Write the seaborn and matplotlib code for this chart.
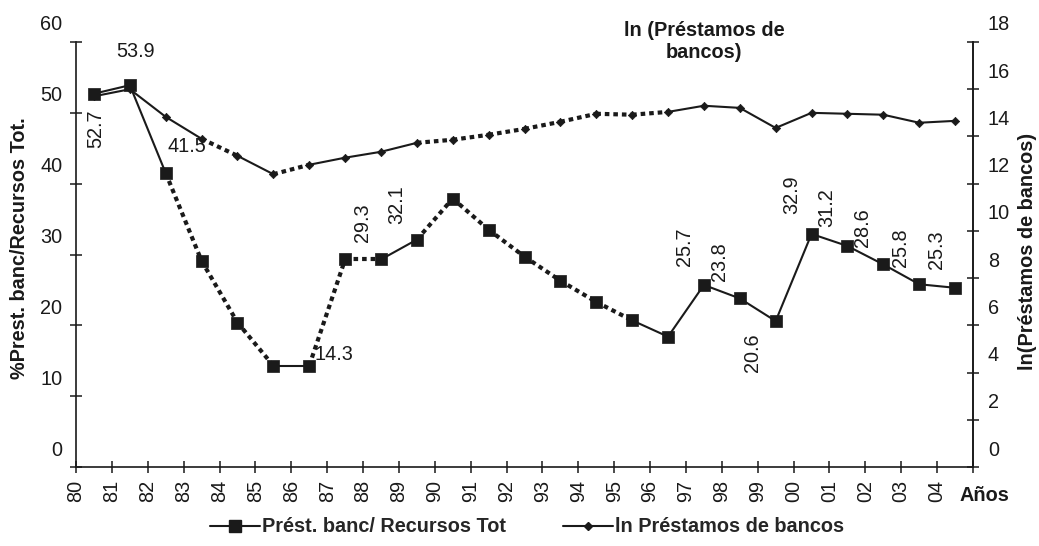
#!/usr/bin/env python3
"""
Préstamos de bancos: % of total resources vs ln(loans), 1980-2004
"""

import pandas as pd
import matplotlib.pyplot as plt
import matplotlib.transforms as mtransforms
from matplotlib.lines import Line2D
import seaborn as sns

# Data
years = ['80', '81', '82', '83', '84', '85', '86', '87', '88', '89', '90', '91', '92',
         '93', '94', '95', '96', '97', '98', '99', '00', '01', '02', '03', '04']
pct_loans = [52.7, 53.9, 41.5, 29.1, 20.4, 14.3, 14.3, 29.3, 29.3, 32.1, 37.9, 33.5, 29.7,
             26.3, 23.3, 20.7, 18.4, 25.7, 23.8, 20.6, 32.9, 31.2, 28.6, 25.8, 25.3]
ln_loans = [15.7, 16.0, 14.83, 13.9, 13.18, 12.4, 12.8, 13.1, 13.35, 13.73, 13.86, 14.07, 14.32,
            14.62, 14.96, 14.92, 15.04, 15.30, 15.21, 14.36, 15.0, 14.96, 14.92, 14.58, 14.66]

# line style of each segment between consecutive years
pct_styles = ['solid', 'solid', 'dot', 'dot', 'dot', 'solid', 'dot', 'dot', 'solid', 'dot',
              'dot', 'dot', 'dot', 'dot', 'dot', 'solid', 'solid', 'solid', 'solid', 'solid',
              'solid', 'solid', 'solid', 'solid']
ln_styles = ['solid', 'solid', 'solid', 'dot', 'solid', 'dot', 'solid', 'solid', 'solid', 'dot',
             'dot', 'dot', 'dot', 'dot', 'dot', 'dot', 'solid', 'solid', 'solid', 'solid',
             'solid', 'solid', 'solid', 'solid']

# labelled points: index, rotation, offset in pixels
labelled = [(0, 90, (2, -35)), (1, 0, (6, 34)), (2, 0, (21, 27)), (6, 0, (25, 11)),
            (7, 90, (17, 37)), (9, 90, (-20, 35)), (17, 90, (-19, 38)), (18, 90, (-20, 37)),
            (19, 90, (-23, -32)), (20, 90, (-20, 39)), (21, 90, (-21, 38)), (22, 90, (-21, 37)),
            (23, 90, (-19, 37)), (24, 90, (-19, 38))]

sns.set_style('ticks')
plt.rcParams['font.family'] = ['Liberation Sans', 'DejaVu Sans']
fs = 14.3
plt.rcParams['font.size'] = fs
ink = '#1a1a1a'


def segments(values, styles):
    """One row per segment end so each segment can have its own style"""
    rows = []
    for i, st in enumerate(styles):
        for j in (i, i + 1):
            rows.append({'x': j + 0.5, 'y': values[j], 'seg': i, 'estilo': st})
    return pd.DataFrame(rows)


def draw_series(ax, values, styles, marker, msize):
    seg = segments(values, styles)
    sns.lineplot(data=seg, x='x', y='y', units='seg', estimator=None, sort=False,
                 style='estilo', size='estilo',
                 dashes={'solid': '', 'dot': (1.1, 0.95)},
                 sizes={'solid': 1.5, 'dot': 3.0},
                 color=ink, legend=False, ax=ax)
    xpos = [i + 0.5 for i in range(len(values))]
    sns.scatterplot(x=xpos, y=values, marker=marker, s=msize, color=ink,
                    edgecolor=ink, linewidth=0.5, ax=ax, zorder=4, legend=False)


fig = plt.figure(figsize=(10.39, 5.46), dpi=100)
ax = fig.add_axes([76 / 1039, 1 - 467 / 546, 897 / 1039, 425 / 546])
ax2 = ax.twinx()

draw_series(ax, pct_loans, pct_styles, 's', 85)
draw_series(ax2, ln_loans, ln_styles, 'D', 18)

for idx, rot, (dx, dy) in labelled:
    ax.annotate(f'{pct_loans[idx]:.1f}', xy=(idx + 0.5, pct_loans[idx]), xytext=(dx, dy),
                textcoords='offset pixels', rotation=rot, ha='center', va='center',
                fontsize=fs, color=ink)

# axes
ax.set_xlim(0, len(years))
ax.set_ylim(0, 60)
ax2.set_ylim(0, 18)
ax.set_xticks(range(len(years) + 1), labels=years + [''], rotation=90)
ax.set_yticks(range(0, 61, 10))
ax2.set_yticks(range(0, 19, 2))
ax.set_xlabel('')
ax.set_ylabel('')
ax2.set_ylabel('')

for a in (ax, ax2):
    a.spines['top'].set_visible(False)
    for sp in a.spines.values():
        sp.set_color(ink)
        sp.set_linewidth(1.2)
    a.tick_params(direction='inout', length=8.5, width=1.1, color=ink,
                  labelsize=fs, labelcolor=ink)
ax.tick_params(axis='x', pad=5)
ax.tick_params(axis='y', pad=5.5)
ax2.tick_params(axis='y', pad=6.5)
ax2.spines['left'].set_visible(False)
ax2.spines['bottom'].set_visible(False)

# tick labels of the value axes sit a bit above their ticks
shift = mtransforms.ScaledTranslation(0, 0.19, fig.dpi_scale_trans)
for lab in ax.get_yticklabels() + ax2.get_yticklabels():
    lab.set_transform(lab.get_transform() + shift)

ax.text(1.013, -0.066, 'Años', transform=ax.transAxes, ha='center', va='center',
        fontsize=fs, weight='bold', color=ink)
fig.text(0.019, 0.545, '%Prest. banc/Recursos Tot.', rotation=90, ha='center',
         va='center', fontsize=fs, weight='bold', color=ink)
fig.text(0.989, 0.54, 'ln(Préstamos de bancos)', rotation=90, ha='center',
         va='center', fontsize=fs, weight='bold', color=ink)
fig.text(704 / 1039, 1 - 42 / 546, 'ln (Préstamos de\nbancos)', ha='center', va='center',
         multialignment='center', fontsize=fs, weight='bold', color=ink)

handles = [Line2D([], [], color=ink, lw=1.5, marker='s', markersize=8),
           Line2D([], [], color=ink, lw=1.5, marker='D', markersize=4)]
fig.legend(handles, ['Prést. banc/ Recursos Tot', 'ln Préstamos de bancos'],
           loc='center', bbox_to_anchor=(527 / 1039, 1 - 527 / 546), ncol=2,
           frameon=False, handlelength=2.5, handletextpad=0.1, columnspacing=2.9,
           prop={'weight': 'bold', 'size': fs})

fig.savefig('out.png', dpi=100)
plt.close()
